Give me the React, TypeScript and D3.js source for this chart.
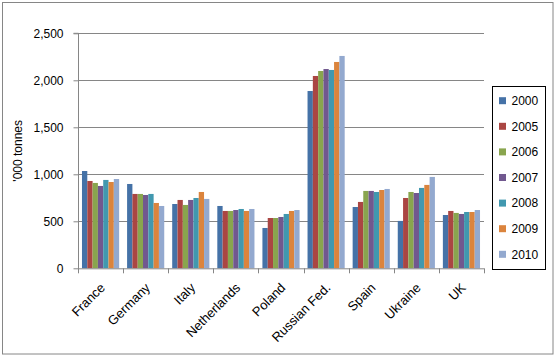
import { useEffect, useRef } from "react";
import * as d3 from "d3";

const countries = ["France", "Germany", "Italy", "Netherlands", "Poland", "Russian Fed.", "Spain", "Ukraine", "UK"];
const years = ["2000", "2005", "2006", "2007", "2008", "2009", "2010"];
const colors = ["#4572A7", "#AA4643", "#89A54E", "#71588F", "#4198AF", "#DB843D", "#93A9CF"];

// one row per country, one value per year ('000 tonnes)
const values: number[][] = [
  [1035, 929, 908, 876, 940, 918, 950],
  [897, 791, 791, 780, 791, 695, 663],
  [684, 727, 674, 727, 748, 812, 738],
  [663, 610, 610, 620, 631, 610, 631],
  [429, 535, 535, 546, 578, 610, 620],
  [1886, 2046, 2099, 2120, 2110, 2195, 2259],
  [652, 706, 823, 823, 812, 833, 844],
  [504, 748, 812, 801, 855, 887, 972],
  [567, 610, 589, 578, 599, 599, 620],
];
const yTicks = [0, 500, 1000, 1500, 2000, 2500];

const W = 558;
const H = 359;
const FONT = "'Liberation Sans', Arial, sans-serif";

export default function App() {
  const svgRef = useRef<SVGSVGElement>(null);

  useEffect(() => {
    if (!svgRef.current) return;
    const svg = d3.select(svgRef.current);
    svg.selectAll("*").remove();

    const plot = { left: 78, right: 484, top: 33.3, bottom: 268.3 };

    svg.append("rect")
      .attr("x", 2.5).attr("y", 2.5)
      .attr("width", 550.5).attr("height", 351.5)
      .attr("fill", "#fff").attr("stroke", "#868686");

    const x0 = d3.scaleBand<string>().domain(countries).range([plot.left, plot.right]).paddingInner(0).paddingOuter(0);
    // gap width 150% of a bar: 7 bars + 1.5 gap
    const inner = 7 / 8.5;
    const x1 = d3.scaleBand<string>().domain(years).range([0, x0.bandwidth() * inner]).padding(0);
    const y = d3.scaleLinear().domain([0, 2500]).range([plot.bottom, plot.top]);

    // gridlines
    svg.append("g")
      .selectAll("line")
      .data(yTicks.filter((t) => t > 0))
      .join("line")
      .attr("x1", plot.left).attr("x2", plot.right)
      .attr("y1", (d) => Math.round(y(d)) + 0.5).attr("y2", (d) => Math.round(y(d)) + 0.5)
      .attr("stroke", "#868686");

    // bars
    const groups = svg.append("g")
      .selectAll("g")
      .data(countries)
      .join("g")
      .attr("transform", (c) => `translate(${x0(c)! + (x0.bandwidth() * (1 - inner)) / 2},0)`);
    groups.selectAll("rect")
      .data((_, i) => values[i].map((v, j) => ({ v, year: years[j], color: colors[j] })))
      .join("rect")
      .attr("x", (d) => x1(d.year)!)
      .attr("width", x1.bandwidth())
      .attr("y", (d) => y(d.v))
      .attr("height", (d) => plot.bottom - y(d.v))
      .attr("fill", (d) => d.color);

    // y axis
    const yAxis = svg.append("g")
      .attr("transform", `translate(${plot.left + 0.5},0)`)
      .call(d3.axisLeft(y).tickValues(yTicks).tickSize(5).tickPadding(10).tickFormat(d3.format(",")));
    yAxis.select(".domain").attr("stroke", "#868686").attr("d", `M-5,${plot.top}H0V${plot.bottom + 0.5}`);
    yAxis.selectAll(".tick line").attr("stroke", "#868686");
    yAxis.selectAll(".tick text").attr("font-family", FONT).attr("font-size", 12).attr("fill", "#000");

    // x axis
    const xAxisLine = svg.append("g");
    xAxisLine.append("line")
      .attr("x1", plot.left).attr("x2", plot.right)
      .attr("y1", plot.bottom + 0.5).attr("y2", plot.bottom + 0.5)
      .attr("stroke", "#868686");
    xAxisLine.selectAll("line.t")
      .data(d3.range(countries.length + 1))
      .join("line")
      .attr("class", "t")
      .attr("x1", (i) => Math.round(plot.left + i * x0.step()) + 0.5)
      .attr("x2", (i) => Math.round(plot.left + i * x0.step()) + 0.5)
      .attr("y1", plot.bottom).attr("y2", plot.bottom + 5)
      .attr("stroke", "#868686");

    svg.append("g")
      .selectAll("text")
      .data(countries)
      .join("text")
      .attr("transform", (c) => `translate(${x0(c)! + x0.bandwidth() / 2 + 2},${plot.bottom + 17}) rotate(-45)`)
      .attr("text-anchor", "end")
      .attr("dy", "0.35em")
      .attr("font-family", FONT)
      .attr("font-size", 13)
      .attr("fill", "#000")
      .text((c) => c);

    // y label
    svg.append("text")
      .attr("transform", `translate(22,${(plot.top + plot.bottom) / 2}) rotate(-90)`)
      .attr("text-anchor", "middle")
      .attr("font-family", FONT)
      .attr("font-size", 12)
      .attr("fill", "#000")
      .text("'000 tonnes");

    // legend
    const lg = svg.append("g");
    lg.append("rect")
      .attr("x", 492.5).attr("y", 86.5)
      .attr("width", 53).attr("height", 183)
      .attr("fill", "#fff").attr("stroke", "#000");
    const items = lg.selectAll("g")
      .data(years)
      .join("g")
      .attr("transform", (_, i) => `translate(499,${100.7 + i * 25.6})`);
    items.append("rect")
      .attr("x", 0).attr("y", -3.5)
      .attr("width", 7).attr("height", 7)
      .attr("fill", (_, i) => colors[i]);
    items.append("text")
      .attr("x", 12.5).attr("dy", "0.35em")
      .attr("font-family", FONT)
      .attr("font-size", 12)
      .attr("fill", "#000")
      .text((d) => d);
  }, []);

  return (
    <div style={{ position: "absolute", left: 0, top: 0 }}>
      <svg ref={svgRef} width={W} height={H} style={{ display: "block" }} />
    </div>
  );
}
